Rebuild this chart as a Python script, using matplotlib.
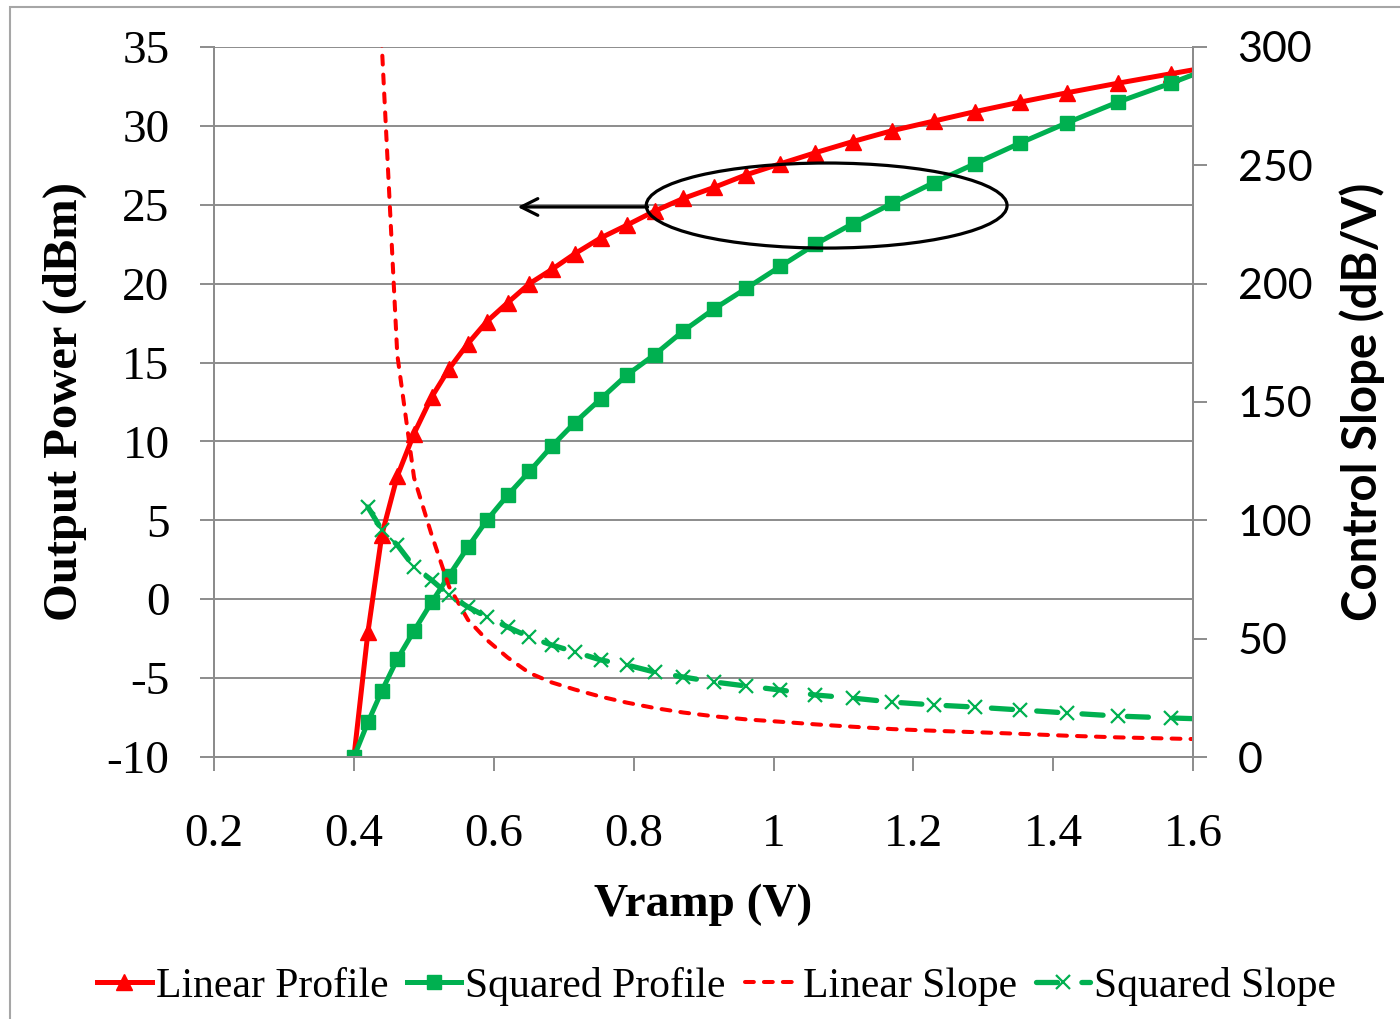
import matplotlib
matplotlib.use('Agg')
import numpy as np
import matplotlib.pyplot as plt
from matplotlib.patches import Ellipse, Rectangle

plt.rcParams['axes.unicode_minus'] = False

# data (last point lies past the 1.6 V axis end and gets clipped)
vramp = [0.400, 0.420, 0.440, 0.462, 0.486, 0.511, 0.536, 0.563, 0.590, 0.620,
         0.651, 0.683, 0.716, 0.753, 0.790, 0.830, 0.871, 0.915, 0.961, 1.010,
         1.060, 1.113, 1.170, 1.229, 1.288, 1.352, 1.420, 1.492, 1.568, 1.645]
linear_profile = [-10.0, -2.1, 4.1, 7.8, 10.5, 12.8, 14.6, 16.2, 17.6, 18.8,
                  20.0, 20.9, 21.9, 22.9, 23.7, 24.6, 25.4, 26.1, 26.9, 27.6,
                  28.3, 29.0, 29.7, 30.3, 30.9, 31.5, 32.1, 32.7, 33.3, 33.9]
squared_profile = [-10.0, -7.8, -5.8, -3.8, -2.0, -0.2, 1.5, 3.3, 5.0, 6.6,
                   8.1, 9.7, 11.2, 12.7, 14.2, 15.5, 17.0, 18.4, 19.7, 21.1,
                   22.5, 23.8, 25.1, 26.4, 27.6, 28.9, 30.2, 31.5, 32.7, 34.0]
linear_slope = [np.nan, 400, 300, 170, 118, 94, 72, 58, 49.5, 42,
                35.5, 31.5, 28.5, 25.5, 23, 20.7, 18.8, 17.2, 15.9, 14.9,
                13.8, 12.8, 11.8, 11.1, 10.5, 9.8, 9.0, 8.3, 7.8, 7.3]
squared_slope = [np.nan, 105.6, 95.9, 89.6, 80.3, 74.8, 68.4, 63.4, 59.2, 54.9,
                 50.7, 47.3, 44.4, 41.0, 38.9, 35.9, 33.8, 31.7, 30.0, 28.3,
                 26.2, 24.9, 23.2, 22.0, 21.1, 19.9, 18.6, 17.3, 16.5, 15.8]

red = '#FF0000'
green = '#00B050'
grey = '#8C8C8C'
serif = 'Liberation Serif'
sans = 'Lato'

fig = plt.figure(figsize=(14, 10.19), dpi=100)
ax = fig.add_axes([0.1529, 0.2571, 0.6993, 0.6968])
ax2 = ax.twinx()

l1, = ax.plot(vramp, linear_profile, color=red, lw=3.6, marker='^', ms=11,
              label='Linear Profile')
l2, = ax.plot(vramp, squared_profile, color=green, lw=3.6, marker='s', ms=10,
              label='Squared Profile')
l3, = ax2.plot(vramp, linear_slope, color=red, lw=2.9, dashes=(2.2, 2.5),
               dash_capstyle='round', label='Linear Slope')
l4, = ax2.plot(vramp, squared_slope, color=green, lw=3.8, dashes=(4.0, 4.6),
               dash_capstyle='round', marker='x', ms=10, mew=1.6,
               label='Squared Slope')

ax.set_xlim(0.2, 1.6)
ax.set_ylim(-10, 35)
ax2.set_ylim(0, 300)
ax.set_xticks(np.arange(0.2, 1.61, 0.2))
ax.set_xticklabels(['0.2', '0.4', '0.6', '0.8', '1', '1.2', '1.4', '1.6'])
ax.set_yticks(np.arange(-10, 36, 5))
ax2.set_yticks(np.arange(0, 301, 50))

ax.grid(axis='y', color=grey, lw=1.4)
ax.set_axisbelow(True)
ax.spines['top'].set_visible(False)
ax2.spines['top'].set_visible(False)
for a in (ax, ax2):
    for s in ['left', 'right', 'bottom']:
        a.spines[s].set_color(grey)
        a.spines[s].set_linewidth(1.4)

ax.tick_params(axis='both', direction='out', length=10, width=1.4, color=grey)
ax.tick_params(axis='y', pad=22)
ax.tick_params(axis='x', pad=31)
ax2.tick_params(axis='y', direction='out', length=10, width=1.4, color=grey, pad=22)
for t in ax.get_xticklabels() + ax.get_yticklabels():
    t.set_fontfamily(serif)
    t.set_fontsize(34)
for t in ax2.get_yticklabels():
    t.set_fontfamily(sans)
    t.set_fontsize(31)

ax.set_ylabel('Output Power (dBm)', fontfamily=serif, fontsize=35, fontweight='bold',
              ha='center', va='center')
ax.yaxis.set_label_coords(-0.152, 0.5)
ax.set_xlabel('Vramp (V)', fontfamily=serif, fontsize=34, fontweight='bold',
              ha='center', va='center')
ax.xaxis.set_label_coords(0.5, -0.208)
ax2.set_ylabel('Control Slope (dB/V)', fontfamily=sans, fontsize=34,
               fontweight='bold', rotation=90, ha='center', va='center')
ax2.yaxis.set_label_coords(1.1726, 0.5)

# callout: ellipse round the profiles with arrow pointing at the left axis
ax2.add_patch(Ellipse((1.076, 24.95), 0.516, 5.39, transform=ax.transData,
                      fill=False, ec='black', lw=2.3, clip_on=False))
ax2.annotate('', xy=(0.634, 24.86), xytext=(0.82, 24.86),
             xycoords=ax.transData, textcoords=ax.transData,
             arrowprops=dict(arrowstyle='->', color='black', lw=2.3,
                             mutation_scale=30, shrinkA=0, shrinkB=0))

fig.legend(handles=[l1, l2, l3, l4], loc='center', bbox_to_anchor=(0.512, 0.032),
           ncol=4, frameon=False, prop={'family': serif, 'size': 30},
           handlelength=1.3, handletextpad=0.1, columnspacing=0.45, borderpad=0)

# light frame round the chart area
fig.patches.append(Rectangle((10 / 1400, -0.05), 1.2, 1.05 - 7 / 1019,
                             transform=fig.transFigure, fill=False,
                             ec='#A6A6A6', lw=1.5))

fig.savefig('out.png', dpi=100)
